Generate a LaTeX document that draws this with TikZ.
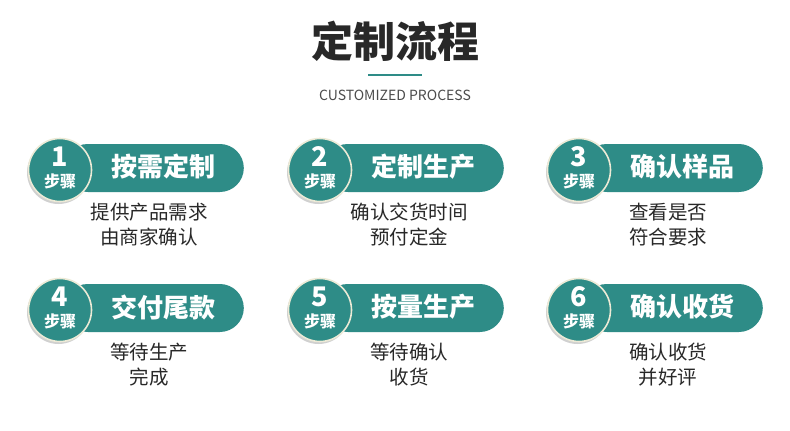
\documentclass[tikz,border=0pt]{standalone}
\usepackage{fontspec}
\setmainfont{Noto Sans CJK SC}
\usetikzlibrary{shadows}

\definecolor{stepteal}{RGB}{46,140,135}
\definecolor{rimcream}{RGB}{236,234,214}
\definecolor{inkdark}{RGB}{40,40,40}

\tikzset{
  pill/.style={fill=stepteal, minimum width=180pt, minimum height=48pt, rounded corners=24pt, anchor=east},
  badge/.style={circle, fill=stepteal, draw=rimcream, line width=1.6pt, minimum size=63pt, inner sep=0pt,
    drop shadow={shadow xshift=-1.5pt, shadow yshift=-2.5pt, opacity=0.3, fill=black!60}},
  stepnum/.style={text=white, font=\fontsize{27}{27}\selectfont\bfseries},
  steptag/.style={text=white, font=\fontsize{16}{16}\selectfont\bfseries},
  pilltext/.style={text=white, font=\fontsize{26}{26}\selectfont\bfseries},
  desc/.style={text=inkdark, font=\fontsize{19.5}{19.5}\selectfont}
}

\begin{document}
\begin{tikzpicture}[x=1pt,y=-1pt]
\fill[white] (0,0) rectangle (790,431);
\useasboundingbox (0,0) rectangle (790,431);

% heading
\node[text=inkdark, font=\fontsize{42}{42}\selectfont\bfseries] (title) at (395,41) {定制流程};
\draw[stepteal, line width=2pt] (368,75) -- (422,75);
\node[text=black!70, font=\fontsize{14}{14}\selectfont] (subtitle) at (395,95) {CUSTOMIZED PROCESS};

% six steps
\foreach \n/\cx/\cy/\head/\lineA/\lineB in {
  1/60/169/按需定制/提供产品需求/由商家确认,
  2/320/169/定制生产/确认交货时间/预付定金,
  3/579/169/确认样品/查看是否/符合要求,
  4/60/309/交付尾款/等待生产/完成,
  5/320/309/按量生产/等待确认/收货,
  6/579/309/确认收货/确认收货/并好评}{
  \node[pill] (pill-\n) at (\cx+184,\cy-1) {};
  \node[badge] (badge-\n) at (\cx,\cy+1) {};
  \node[stepnum] (num-\n) at (\cx,\cy-12) {\n};
  \node[steptag] (tag-\n) at (\cx,\cy+12) {步骤};
  \node[pilltext] (head-\n) at (\cx+103,\cy-2) {\head};
  \node[desc] (descA-\n) at (\cx+89,\cy+43) {\lineA};
  \node[desc] (descB-\n) at (\cx+89,\cy+68) {\lineB};
}
\end{tikzpicture}
\end{document}
